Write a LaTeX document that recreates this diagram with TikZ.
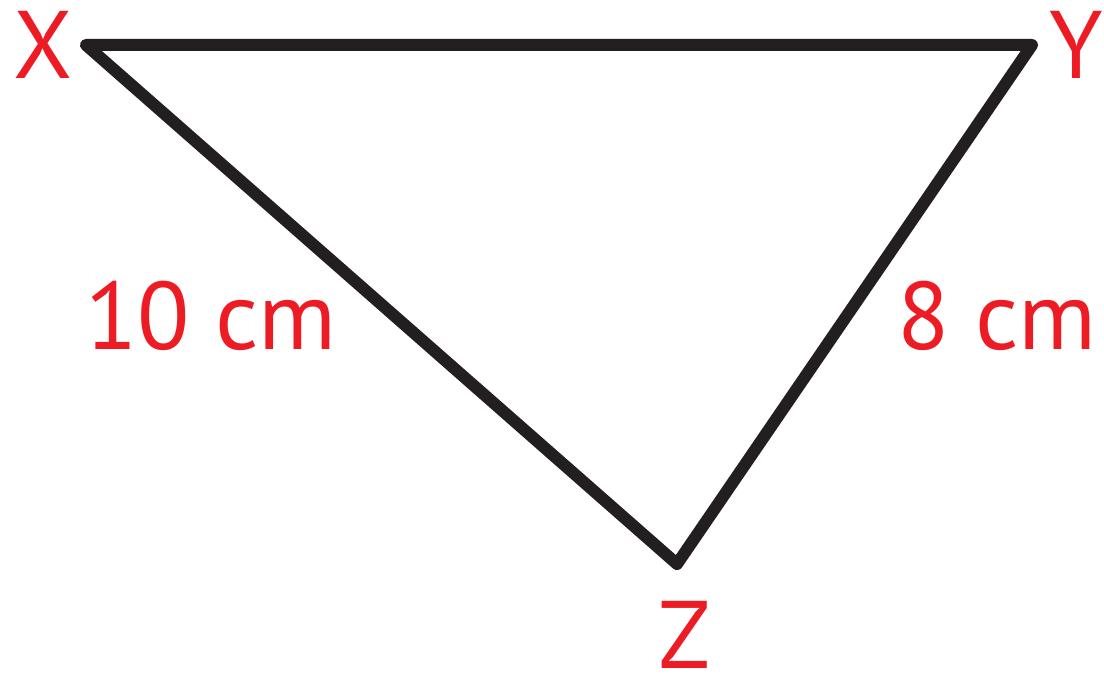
\documentclass[tikz,border=0pt]{standalone}
\usepackage{fontspec}
\setmainfont{PT Sans}
\usetikzlibrary{positioning,calc}
\definecolor{TrianguloRojo}{RGB}{237, 28, 36}
\definecolor{TrianguloNegro}{RGB}{35, 31, 32}
\colorlet{rojo}{TrianguloRojo}
\colorlet{negro}{TrianguloNegro}
\tikzset{
  lado/.style={draw=negro,line width=12pt,line join=round,line cap=round},
  etiqueta/.style={text=rojo,font=\fontsize{96}{100}\selectfont,inner sep=0pt}
}

\begin{document}
\begin{tikzpicture}[x=1pt,y=-1pt]
        \useasboundingbox (0,0) rectangle (1104,676);
        \coordinate (X) at (86,45);
        \coordinate (Y) at (1032,45);
        \coordinate (Z) at (677,564);
        \draw[lado] (X) -- (Y) -- (Z) -- cycle;
        \node[etiqueta] (lx) at (43,45) {X};
        \node[etiqueta] (ly) at (1076,45) {Y};
        \node[etiqueta] (lz) at (685,635) {Z};
        \node[etiqueta] (lxz) at (211,316) {10 cm};
        \node[etiqueta] (lyz) at (997,316) {8 cm};
      \end{tikzpicture}
\end{document}
